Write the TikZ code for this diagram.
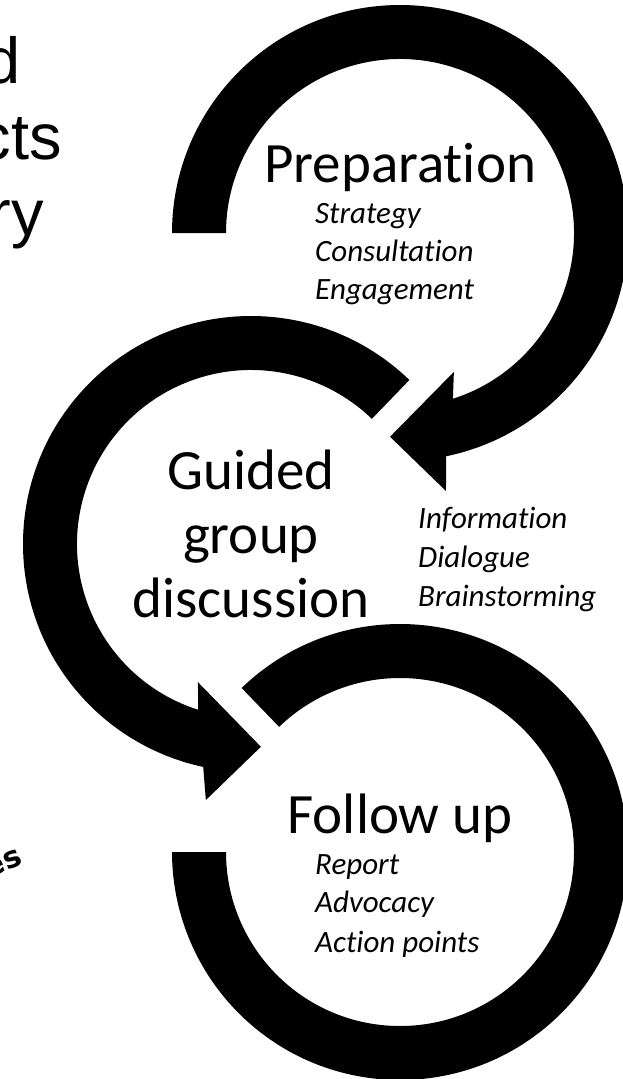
\documentclass[tikz,border=0pt]{standalone}
\usepackage{fontspec}
\setmainfont{Carlito}[Ligatures=NoCommon]
\newfontfamily\arialfont{Liberation Sans}
\newfontfamily\handfont{DejaVu Sans}
\begin{document}
\begin{tikzpicture}[x=1pt, y=1pt, line join=round,
  ring/.style={fill=black},
  stage/.style={font=\fontsize{57}{60}\selectfont, inner sep=0pt, anchor=base},
  item/.style={font=\fontsize{31}{35}\selectfont\itshape, inner sep=0pt, anchor=base west},
  cutword/.style={font=\arialfont\fontsize{65}{70}\selectfont, inner sep=0pt, anchor=base east}]
\useasboundingbox (0,0) rectangle (623,-1079);
\clip (0,0) rectangle (623,-1079);
\def\R{228}\def\r{174}
% the three circular arrows
\fill[ring, shift={(400,-233)}] (180:\R) arc[start angle=180, end angle=-78.3, radius=\R] -- (-79.9:262) -- (-92.8:204) -- (-68.8:149) -- (-72.3:\r) arc[start angle=-72.3, end angle=180, radius=\r] -- cycle;
\fill[ring, shift={(251,-544)}] (46:\R) arc[start angle=46, end angle=257.9, radius=\R] -- (260:260) -- (272.8:203) -- (249:148) -- (252.3:\r) arc[start angle=252.3, end angle=46, radius=\r] -- cycle;
\fill[ring, shift={(400,-852)}] (134:\R) arc[start angle=134, end angle=-180, radius=\R] -- (-180:\r) arc[start angle=-180, end angle=134, radius=\r] -- cycle;
% stages
\node[stage] (prep) at (400,-182) {Preparation};
\node[item] (strat) at (315,-223) {Strategy};
\node[item] (cons) at (315,-261) {Consultation};
\node[item] (enga) at (315,-299) {Engagement};
\node[stage] (guid) at (251,-489) {Guided};
\node[stage] (group) at (251,-553) {group};
\node[stage] (disc) at (251,-617) {discussion};
\node[item] (info) at (418,-528) {Information};
\node[item] (dial) at (418,-567) {Dialogue};
\node[item] (brain) at (418,-606) {Brainstorming};
\node[stage] (follow) at (400,-833) {Follow up};
\node[item] (report) at (315,-874) {Report};
\node[item] (advo) at (315,-912) {Advocacy};
\node[item] (action) at (315,-952) {Action points};
% cut-off words at the left edge
\node[cutword] (cut1) at (21,-83) {d};
\node[cutword] (cut2) at (62,-159) {cts};
\node[cutword] (cut3) at (44,-235) {ry};
\node[font=\handfont\bfseries\fontsize{30}{32}\selectfont, rotate=22, anchor=base east, inner sep=0pt] (cut4) at (24,-864) {es};
\end{tikzpicture}
\end{document}
